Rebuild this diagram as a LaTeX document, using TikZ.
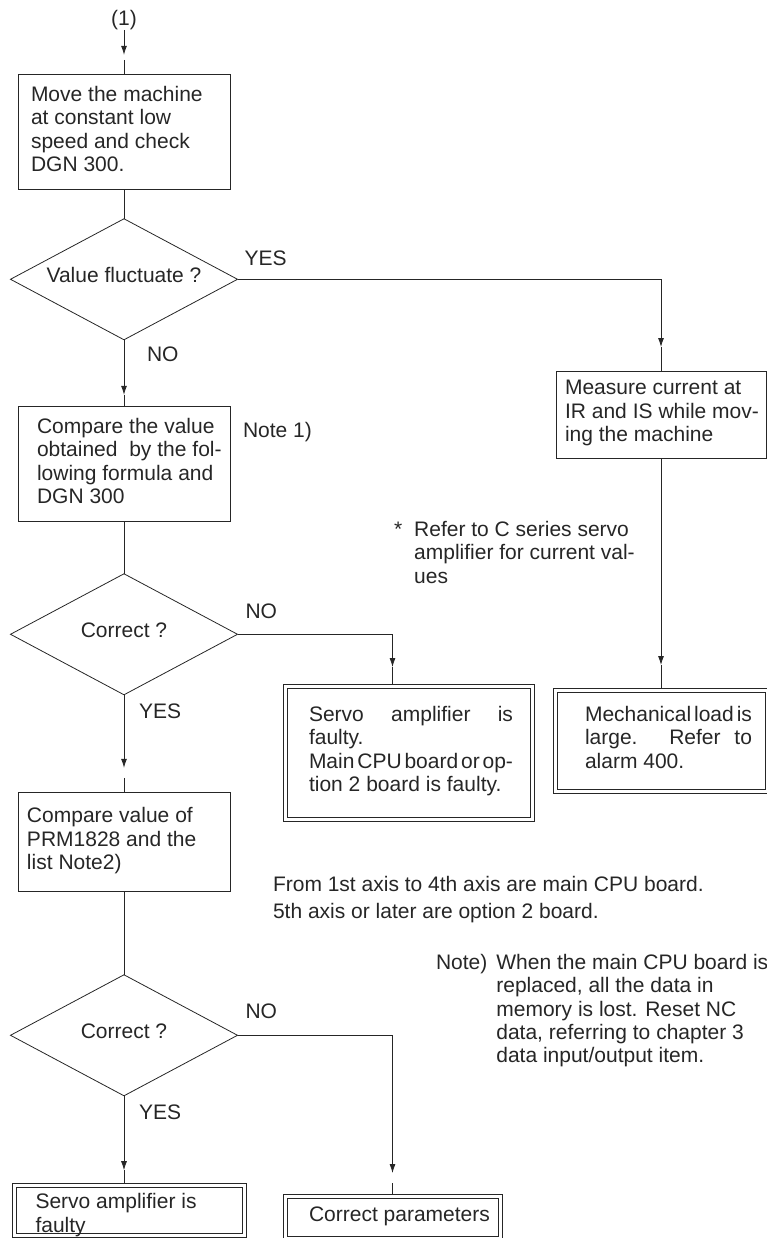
\documentclass[tikz,border=0pt]{standalone}
\usepackage{fontspec}
\setmainfont{Liberation Sans}
\usetikzlibrary{arrows.meta,positioning,shapes.geometric}

\begin{document}
\begin{tikzpicture}[x=1pt,y=-1pt,
                >={Latex[width=6pt,length=9pt]},
                line width=0.8pt, color=black!85,
                font=\fontsize{21}{23.4}\selectfont,
                lskip/.style = {execute at begin node={\leftskip=#1\relax
                                \spaceskip=.28em plus 1.2em minus .26em\relax}},
                proc/.style = {draw, rectangle, align=left, inner ysep=0pt, outer sep=0pt,
                               lskip=0pt, execute at end node=\strut},
                term/.style = {proc, path picture={\draw ([shift={(4pt,-4pt)}]path picture bounding box.north west)
                               rectangle ([shift={(-4pt,4pt)}]path picture bounding box.south east);}},
                cond/.style = {draw, diamond, aspect=1.876, minimum width=227pt, minimum height=121pt,
                               inner sep=0pt, outer sep=0pt, text height=15pt, text depth=9pt},
                lbl/.style = {inner sep=0pt, outer sep=0pt}]
            \useasboundingbox (0,0) rectangle (767,1238);

            % Nodes
            \node[lbl] (S) at (124,20) {(1)};
            \node[proc, text width=186pt, inner xsep=13pt, minimum height=115pt, below=45pt of S] (A)
                {Move the machine\\at constant low\\speed and check\\DGN 300.};
            \node[cond, below=29pt of A] (B) {Value fluctuate ?};
            \node[proc, text width=198pt, inner xsep=7pt, lskip=12pt, minimum height=115pt, below=67pt of B] (C)
                {Compare the value\\obtained\ \ by the fol-\\lowing formula and\\DGN 300};
            \node[cond, below=52pt of C] (D) {Correct ?};
            \node[proc, text width=194pt, inner xsep=9pt, minimum height=99pt, below=98pt of D] (E)
                {Compare value of\\PRM1828 and the\\list Note2)};
            \node[cond, below=83pt of E] (F) {Correct ?};
            \node[term, text width=188pt, inner xsep=23pt, minimum height=54pt, text height=25pt, text depth=28pt,
                  below=87.4pt of F, xshift=5.5pt] (K)
                {Servo amplifier is\\faulty};

            \node[proc, text width=198pt, inner xsep=6pt, lskip=3pt, minimum height=87pt, anchor=north west] (G) at (556,371)
                {Measure current at\\IR and IS while mov-\\ing the machine};
            \node[term, align=justify, text width=182pt, inner xsep=17pt, lskip=15pt, minimum height=105pt, below=230pt of G] (H)
                {Mechanical load is\linebreak large. Refer to\linebreak alarm 400.};
            \node[term, align=justify, text width=209pt, inner xsep=21pt, lskip=5pt, minimum height=137pt, anchor=north west] (I) at (283,684)
                {Servo amplifier is\linebreak faulty.\\Main CPU board or op-\linebreak tion 2 board is faulty.};
            \node[term, text width=197pt, inner xsep=11pt, lskip=15pt, minimum height=46pt, anchor=north west] (J) at (283,1194)
                {Correct parameters};

            % Labels and notes
            \node[lbl, above right=14pt and 7pt of B.east] (yes1) {YES};
            \node[lbl, below right=7pt and 23pt of B.south] (no1) {NO};
            \node[lbl, above right=16pt and 8pt of D.east] (no2) {NO};
            \node[lbl, below right=9pt and 15pt of D.south] (yes2) {YES};
            \node[lbl, above right=17pt and 8pt of F.east] (no3) {NO};
            \node[lbl, below right=9pt and 15pt of F.south] (yes3) {YES};
            \node[lbl, below right=15pt and 13pt of C.north east] (note1) {Note 1)};
            \node[lbl, anchor=north west] (star) at (394,520)
                {\begin{tabular}{@{}l@{\hspace{12pt}}l@{}}*&Refer to C series servo\\&amplifier for current val-\\&ues\end{tabular}};
            \node[lbl, anchor=north west, align=left] (axis) at (273,876)
                {From 1st axis to 4th axis are main CPU board.\\[4pt]5th axis or later are option 2 board.};
            \node[lbl, anchor=north west] (note) at (436,953)
                {\begin{tabular}{@{}l@{\hspace{9pt}}l@{}}Note)&When the main CPU board is\\&replaced, all the data in\\&memory is lost. Reset NC\\&data, referring to chapter 3\\&data input/output item.\end{tabular}};

            %Edges
            \draw[->] (S) -- ([yshift=20pt]A.north);
            \draw ([yshift=15pt]A.north) -- (A);
            \draw (A) -- (B);
            \draw[->] (B.east) -| ([yshift=24pt]G.north);
            \draw ([yshift=24pt]G.north) -- (G);
            \draw[->] (B) -- ([yshift=12pt]C.north);
            \draw ([yshift=12pt]C.north) -- (C);
            \draw (C) -- (D);
            \draw[->] (D.east) -| ([xshift=-16pt,yshift=17pt]I.north);
            \draw ([xshift=-16pt,yshift=17pt]I.north) -- ([xshift=-16pt]I.north);
            \draw[->] (D) -- ([yshift=25pt]E.north);
            \draw ([yshift=15pt]E.north) -- (E);
            \draw (E) -- (F);
            \draw[->] (F.east) -| ([yshift=21pt]J.north);
            \draw ([yshift=11pt]J.north) -- (J);
            \draw[->] (G) -- ([yshift=23pt]H.north);
            \draw ([yshift=23pt]H.north) -- (H);
            \coordinate (k0) at (F.south |- K.north);
            \draw[->] (F) -- ([yshift=13pt]k0);
            \draw ([yshift=13pt]k0) -- (k0);
        \end{tikzpicture}
\end{document}
